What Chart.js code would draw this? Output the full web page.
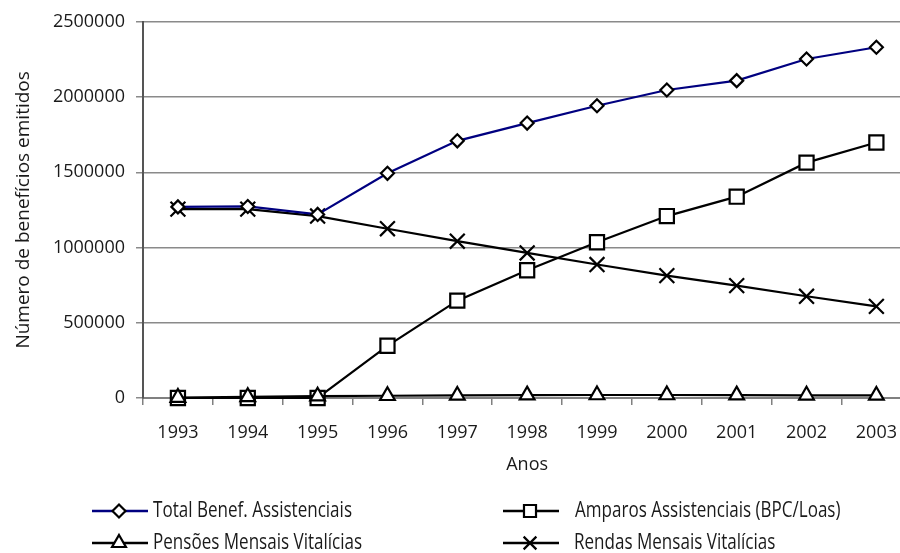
<!DOCTYPE html>
<html>
<head>
<meta charset="utf-8">
<script src="https://cdn.jsdelivr.net/npm/chart.js@4/dist/chart.umd.min.js"></script>
<style>
  html, body { margin: 0; padding: 0; background: #fff; overflow: hidden; }
  #wrap { width: 924px; height: 553px; }
</style>
</head>
<body>
<div id="wrap"><canvas id="chart" width="924" height="553"></canvas></div>
<script>
// data
const years = ['1993', '1994', '1995', '1996', '1997', '1998', '1999', '2000', '2001', '2002', '2003'];
const seriesNames = ['Total Benef. Assistenciais', 'Amparos Assistenciais (BPC/Loas)', 'Pensões Mensais Vitalícias', 'Rendas Mensais Vitalícias'];
const totalBenef = [1270000, 1273000, 1220000, 1493000, 1709000, 1827000, 1942000, 2047000, 2109000, 2253000, 2331000];
const amparos = [0, 0, 0, 347000, 647000, 849000, 1035000, 1209000, 1338000, 1564000, 1698000];
const pensoes = [3000, 8000, 12000, 15000, 17000, 19000, 20000, 20000, 19000, 18000, 17000];
const rendas = [1255000, 1255000, 1209000, 1125000, 1042000, 964000, 887000, 813000, 747000, 676000, 609000];
const yMax = 2500000;
const yStep = 500000;

const FONT = '"Open Sans", "DejaVu Sans", sans-serif';
const TXT = '#1a1a1a';
Chart.defaults.font.family = FONT;

function series(label, data, color, style, radius, order) {
  return {
    label, data, order,
    borderColor: color,
    borderWidth: 2.2,
    pointStyle: style,
    pointRadius: radius,
    pointHoverRadius: radius,
    pointBorderColor: '#000',
    pointBackgroundColor: '#fff',
    pointBorderWidth: 2.2,
    tension: 0,
    clip: false
  };
}

// 2 x 2 legend under the axis title
const gridLegend = {
  id: 'gridLegend',
  afterDraw(chart) {
    const ctx = chart.ctx;
    const slots = [
      { x: 92, y: 511, gap: 5 }, { x: 503, y: 511, gap: 16 },
      { x: 92, y: 543, gap: 5 }, { x: 503, y: 543, gap: 15 }
    ];
    const sizes = [6.5, 8.5, 8, 9];
    ctx.save();
    ctx.font = '21px ' + FONT;
    const sx = 199 / ctx.measureText(seriesNames[0]).width;
    chart.data.datasets.forEach((ds, i) => {
      const s = slots[i];
      ctx.strokeStyle = ds.borderColor;
      ctx.lineWidth = 2.5;
      ctx.beginPath();
      ctx.moveTo(s.x, s.y);
      ctx.lineTo(s.x + 56, s.y);
      ctx.stroke();
      ctx.fillStyle = '#fff';
      ctx.strokeStyle = '#000';
      ctx.lineWidth = 2.2;
      Chart.helpers.drawPoint(ctx, { pointStyle: ds.pointStyle, radius: sizes[i], borderWidth: 2.2, rotation: 0 }, s.x + 27, s.y);
      ctx.save();
      ctx.fillStyle = TXT;
      ctx.textBaseline = 'middle';
      ctx.translate(s.x + 56 + s.gap, s.y);
      ctx.scale(sx, 1);
      ctx.fillText(ds.label, 0, 0);
      ctx.restore();
    });
    ctx.restore();
  }
};

new Chart(document.getElementById('chart'), {
  type: 'line',
  data: {
    labels: years,
    datasets: [
      series(seriesNames[0], totalBenef, '#000080', 'rectRot', 6.5, 1),
      series(seriesNames[1], amparos, '#000', 'rect', 10, 2),
      series(seriesNames[2], pensoes, '#000', 'triangle', 8.5, 0),
      series(seriesNames[3], rendas, '#000', 'crossRot', 10.5, 3)
    ]
  },
  options: {
    responsive: false,
    animation: false,
    devicePixelRatio: 1,
    layout: { padding: { left: 10, top: 12, right: 2, bottom: 75 } },
    plugins: {
      legend: { display: false },
      tooltip: { enabled: false }
    },
    scales: {
      x: {
        offset: true,
        grid: { offset: true, drawOnChartArea: false, tickLength: 7, color: '#808080', lineWidth: 1.5 },
        border: { color: '#808080', width: 2 },
        ticks: { color: TXT, font: { size: 18 }, padding: 17, maxRotation: 0, autoSkip: false },
        title: { display: true, text: 'Anos', color: TXT, font: { size: 18 }, padding: { top: 0, bottom: 2 } },
        afterFit(s) { s.height = 80; }
      },
      y: {
        min: 0,
        max: yMax,
        grid: { color: '#8a8a8a', lineWidth: 1.5, tickLength: 7 },
        border: { color: '#555', width: 2 },
        ticks: { stepSize: yStep, color: TXT, font: { size: 18 }, padding: 11, callback: v => String(v) },
        title: { display: true, text: 'Número de benefícios emitidos', color: TXT, font: { size: 19 }, padding: { top: 2, bottom: 0 } },
        afterFit(s) { s.width = 133; }
      }
    }
  },
  plugins: [gridLegend]
});
</script>
</body>
</html>
